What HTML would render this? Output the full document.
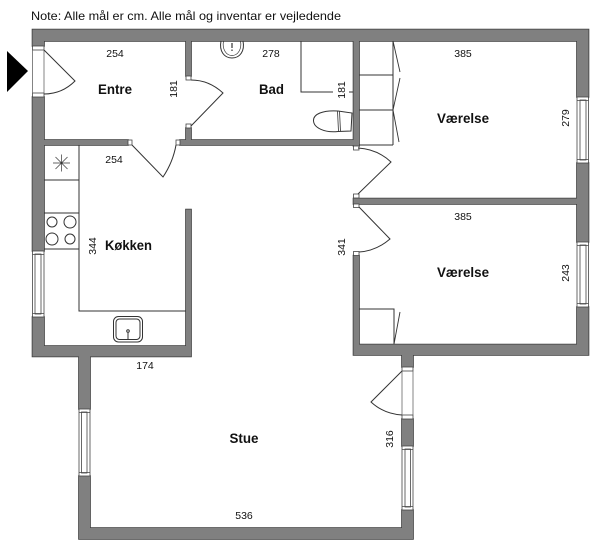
<!DOCTYPE html>
<html>
<head>
<meta charset="utf-8">
<style>
html,body{margin:0;padding:0;background:#fff;width:600px;height:545px;overflow:hidden}
svg{display:block}
text{font-family:"Liberation Sans",sans-serif;fill:#111}
.l{font-size:14px;font-weight:bold;text-anchor:middle}
.d{font-size:10.5px;text-anchor:middle}
.t{fill:none;stroke:#333;stroke-width:1}
.w{fill:#fff;stroke:#444;stroke-width:.8}
</style>
</head>
<body>
<svg width="600" height="545" viewBox="0 0 600 545" xmlns="http://www.w3.org/2000/svg">
<rect width="600" height="545" fill="#fff"/>
<text x="31" y="20" font-size="12" textLength="310" lengthAdjust="spacingAndGlyphs">Note: Alle mål er cm. Alle mål og inventar er vejledende</text>
<polygon points="7,51 28,71 7,92" fill="#000"/>

<!-- walls -->
<path fill="#808080" stroke="#3c3c3c" stroke-width="1.6" style="paint-order:stroke" d="
M32.5 29.5H588.5V41H32.5Z
M32.5 35H44V46H32.5Z
M32.5 97H44V251H32.5Z
M32.5 317H44V350H32.5Z
M32.5 346H191V356.5H32.5Z
M186 209.5H191V350H186Z
M79 350H90V409H79Z
M79 476H90V535H79Z
M79 528H413V539H79Z
M402 510H413V535H402Z
M402 419H413V446H402Z
M402 350H413V367H402Z
M353.5 344.5H588.5V355H353.5Z
M577 35H588.5V97H577Z
M577 163H588.5V242H577Z
M577 307H588.5V350H577Z
M353.5 198.5H580V204H353.5Z
M353.5 255.5H359V350H353.5Z
M353.5 35H359V146H353.5Z
M186 35H191V76H186Z
M186 128H191V142H186Z
M180 140H359V145H180Z
M40 140H128V145H40Z
"/>

<!-- jambs -->
<g fill="#fff" stroke="#444" stroke-width=".8">
<rect x="32.5" y="46" width="11.5" height="4"/>
<rect x="32.5" y="93" width="11.5" height="4"/>
<rect x="186" y="76" width="5" height="4"/>
<rect x="186" y="124" width="5" height="4"/>
<rect x="128" y="140" width="4" height="5"/>
<rect x="176" y="140" width="4" height="5"/>
<rect x="353.5" y="146" width="5.5" height="4"/>
<rect x="353.5" y="194" width="5.5" height="4"/>
<rect x="353.5" y="204" width="5.5" height="3.5"/>
<rect x="353.5" y="251.500" width="5.5" height="4"/>
<rect x="402" y="367" width="11" height="4"/>
<rect x="402" y="415" width="11" height="4"/>
</g>
<path d="M32.500 50V93M44 50V93M402 371V415M413 371V415" fill="none" stroke="#666" stroke-width=".8"/>

<!-- doors -->
<g class="t">
<path d="M44 50L75 81Q62 94 44 94"/>
<path d="M191 126L223 93Q209 80 191 80"/>
<path d="M132 145L163 177Q173 162 176 145"/>
<path d="M358 194L391 162Q377 149 358 148"/>
<path d="M359 207L390 239Q376 251 359 252"/>
<path d="M402 371L371 402Q384 414 402 415"/>
</g>

<!-- windows -->
<g>
<rect class="w" x="32.500" y="251" width="11.500" height="66"/>
<rect class="w" x="35" y="254" width="6" height="60"/>
<path d="M32.500 254.500H44M32.500 313.500H44" stroke="#444" stroke-width=".8"/>
<rect class="w" x="577" y="97" width="11.500" height="66"/>
<rect class="w" x="580" y="100" width="6" height="60"/>
<path d="M577 100.500H588.500M577 159.500H588.500" stroke="#444" stroke-width=".8"/>
<rect class="w" x="577" y="242" width="11.500" height="65"/>
<rect class="w" x="580" y="245" width="6" height="59"/>
<path d="M577 245.500H588.500M577 303.500H588.500" stroke="#444" stroke-width=".8"/>
<rect class="w" x="79" y="409" width="11" height="67"/>
<rect class="w" x="81.500" y="412" width="5.500" height="61"/>
<path d="M79 412.500H90M79 472.500H90" stroke="#444" stroke-width=".8"/>
<rect class="w" x="402" y="446" width="11" height="64"/>
<rect class="w" x="405" y="449" width="5.500" height="58"/>
<path d="M402 449.500H413M402 506.500H413" stroke="#444" stroke-width=".8"/>
</g>

<!-- kitchen -->
<g class="t">
<path d="M79 145V311H186"/>
<path d="M44 180H79M44 213H79M44 249H79"/>
<circle cx="52" cy="222" r="5"/>
<circle cx="70" cy="222" r="6"/>
<circle cx="52" cy="239" r="6"/>
<circle cx="70" cy="239" r="5"/>
<path d="M53 163H70M61.500 154.500V171.500M55.500 157L67.500 169M67.500 157L55.500 169" stroke-width=".7"/>
<rect x="113.500" y="316.500" width="29" height="25.500" rx="5"/>
<rect x="116" y="319" width="24" height="20.500" rx="3.500"/>
<circle cx="128" cy="331" r="1.300"/>
<path d="M128 332V340"/>
</g>

<!-- bathroom -->
<g class="t">
<path d="M221 41C219 51 224 58 232 58C240 58 245 51 243 41"/>
<path d="M223.500 41C222 49 226 55.500 232 55.500C238 55.500 242 49 240.500 41" stroke-width=".7"/>
<path d="M232 43V48M232 49.500V51" stroke-width="1.200"/>
<path d="M301 41V92H333M349 92H353"/>
<path d="M338 111C323 110 313 114 313.500 121C314 128 325 133 338 131.500L351 131L352 113Z"/>
<path d="M337.500 111L338.500 131.500M339.500 111L340.500 131.500" stroke-width=".8"/>
</g>

<!-- closets -->
<g class="t">
<path d="M393 41V145M359 75H393M359 110H393M359 145H393"/>
<path d="M393 41L400 72M400 78L393 110L399 142" stroke-width=".9"/>
<path d="M359 309H394V344"/>
<path d="M394 344L400 312" stroke-width=".9"/>
</g>

<!-- labels -->
<text class="l" x="115" y="94" textLength="34" lengthAdjust="spacingAndGlyphs">Entre</text>
<text class="l" x="271.500" y="94" textLength="25" lengthAdjust="spacingAndGlyphs">Bad</text>
<text class="l" x="463" y="123" textLength="52" lengthAdjust="spacingAndGlyphs">Værelse</text>
<text class="l" x="463" y="277" textLength="52" lengthAdjust="spacingAndGlyphs">Værelse</text>
<text class="l" x="128.500" y="250" textLength="47" lengthAdjust="spacingAndGlyphs">Køkken</text>
<text class="l" x="244" y="443" textLength="29" lengthAdjust="spacingAndGlyphs">Stue</text>

<text class="d" x="115" y="57">254</text>
<text class="d" x="271" y="57">278</text>
<text class="d" x="463" y="57">385</text>
<text class="d" x="114" y="163">254</text>
<text class="d" x="463" y="220">385</text>
<text class="d" x="145" y="369">174</text>
<text class="d" x="244" y="519">536</text>
<text class="d" transform="translate(177,89) rotate(-90)">181</text>
<text class="d" transform="translate(345,90) rotate(-90)">181</text>
<text class="d" transform="translate(569,118) rotate(-90)">279</text>
<text class="d" transform="translate(569,273) rotate(-90)">243</text>
<text class="d" transform="translate(96,246) rotate(-90)">344</text>
<text class="d" transform="translate(345,247) rotate(-90)">341</text>
<text class="d" transform="translate(393,439) rotate(-90)">316</text>
</svg>
</body>
</html>
